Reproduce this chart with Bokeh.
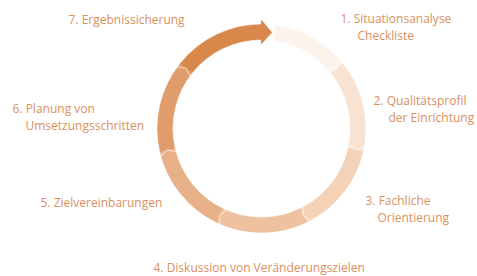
import math
from bokeh.plotting import figure
from bokeh.models import Range1d, ColumnDataSource
from bokeh.core.properties import value
from bokeh.embed import file_html
from bokeh.resources import INLINE

# ---- data ----
step_numbers = ["1.", "2.", "3.", "4.", "5.", "6.", "7."]
step_line1 = ["Situationsanalyse", "Qualitätsprofil", "Fachliche",
              "Diskussion von Veränderungszielen", "Zielvereinbarungen",
              "Planung von", "Ergebnissicherung"]
step_line2 = ["Checkliste", "der Einrichtung", "Orientierung", "", "",
              "Umsetzungsschritten", ""]
step_share = [1, 1, 1, 1, 1, 1, 1]

# ---- styles / layout ----
seg_colors = ["#FCF3EC", "#F8E3D3", "#F3D2B8", "#EEC2A0", "#E8B088", "#E09C6B", "#D8884B"]
text_color = "#DA915E"
W, H = 477, 276
CX, CY = 261, 148          # ring centre (data units = px, y up)
R_OUT, R_IN = 104, 89
START_GAP = 8              # degrees of gap after the arrow tip
# label anchors (left x, centre y of first line), in px from top-left of picture
label_pos = [(340, 18), (373, 100), (365, 200), (153, 267), (40, 202), (12, 108), (68, 19)]
indent = [17, 15, 12, 0, 0, 13, 0]
line_gap = 17

p = figure(width=W, height=H, output_backend="svg", toolbar_location=None,
           x_range=Range1d(0, W), y_range=Range1d(0, H),
           min_border=0, outline_line_color=None)
p.axis.visible = False
p.grid.visible = False
p.background_fill_color = "white"

total = sum(step_share)
starts, ends = [], []
acc = 0
for i, s in enumerate(step_share):
    a_hi = 90 - 360 * acc / total
    acc += s
    a_lo = 90 - 360 * acc / total
    if i == 0:
        a_hi -= START_GAP
    starts.append(math.radians(a_lo))
    ends.append(math.radians(a_hi))

src = ColumnDataSource(dict(x=[CX] * len(step_share), y=[CY] * len(step_share),
                            start=starts, end=ends, color=seg_colors))
p.annular_wedge(x="x", y="y", inner_radius=R_IN, outer_radius=R_OUT,
                start_angle="start", end_angle="end", fill_color="color",
                line_color="color", line_width=0.5, source=src)

# small chevron notches at segment boundaries (lighter marks)
rm = (R_IN + R_OUT) / 2
acc = 0
for i, s in enumerate(step_share[:-1]):
    acc += s
    a = math.radians(90 - 360 * acc / total)
    da = math.radians(3)
    pts_x = [CX + (R_IN - 3) * math.cos(a + da), CX + rm * math.cos(a), CX + (R_OUT + 3) * math.cos(a + da)]
    pts_y = [CY + (R_IN - 3) * math.sin(a + da), CY + rm * math.sin(a), CY + (R_OUT + 3) * math.sin(a + da)]
    p.line(pts_x, pts_y, line_color="white", line_alpha=0.45, line_width=1.5)

# arrow head at end of last segment
a_base = math.radians(90)
a_tip = math.radians(90 - 6)
hx = [CX + (R_IN - 4) * math.cos(a_base), CX + (R_OUT + 4) * math.cos(a_base), CX + rm * math.cos(a_tip)]
hy = [CY + (R_IN - 4) * math.sin(a_base), CY + (R_OUT + 4) * math.sin(a_base), CY + rm * math.sin(a_tip)]
p.patch(hx, hy, fill_color=seg_colors[-1], line_color=seg_colors[-1])

# labels
x1, y1, t1, x2, y2, t2 = [], [], [], [], [], []
for i in range(len(step_numbers)):
    lx, ly = label_pos[i]
    x1.append(lx); y1.append(H - ly); t1.append(step_numbers[i] + " " + step_line1[i])
    if step_line2[i]:
        x2.append(lx + indent[i]); y2.append(H - ly - line_gap); t2.append(step_line2[i])

for xs, ys, ts in ((x1, y1, t1), (x2, y2, t2)):
    p.text(x=xs, y=ys, text=ts, text_font=value("Open Sans"), text_font_size="12px",
           text_color=text_color, text_align="left", text_baseline="middle")

open("out.html", "w").write(file_html(p, INLINE))
